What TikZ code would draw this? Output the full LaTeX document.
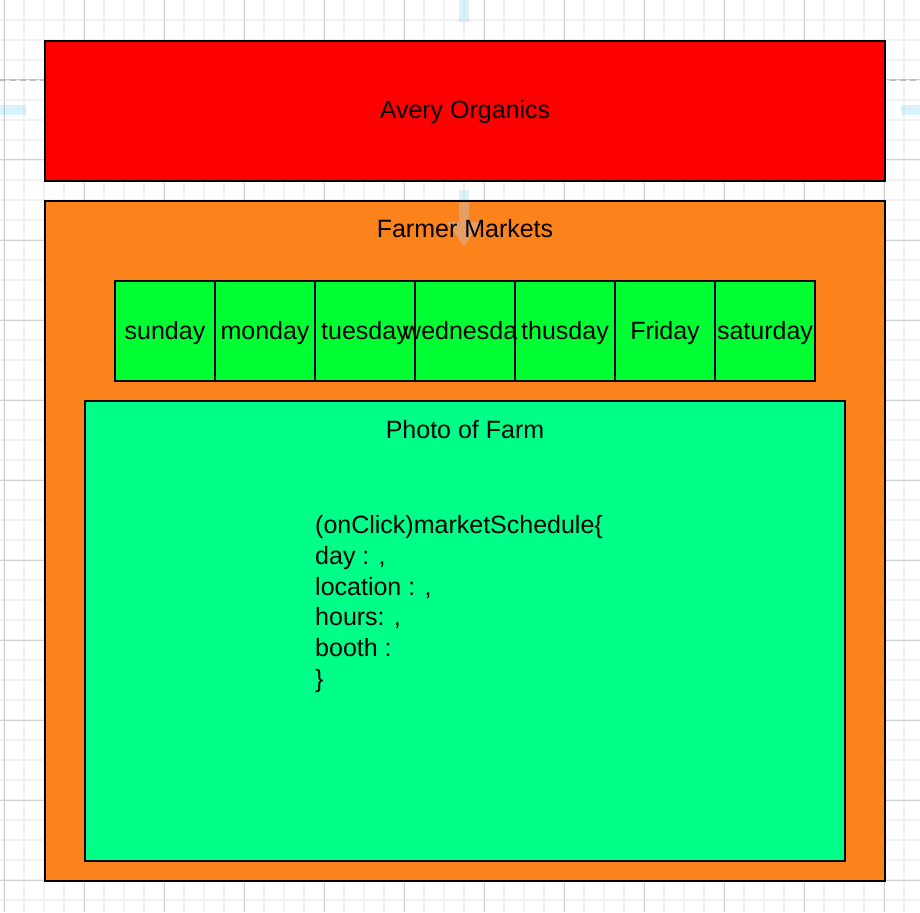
\documentclass[tikz,border=0pt]{standalone}
\usepackage{fontspec}
\setmainfont{Liberation Sans}
\definecolor{gridminor}{RGB}{241,241,241}
\definecolor{gridmajor}{RGB}{208,208,208}
\definecolor{guide}{RGB}{190,190,190}
\definecolor{avred}{RGB}{255,0,0}
\definecolor{market}{RGB}{252,130,27}
\definecolor{dayfill}{RGB}{0,255,51}
\definecolor{photofill}{RGB}{0,255,136}
\definecolor{hintblue}{RGB}{41,182,242}
\definecolor{hintgray}{RGB}{196,200,212}
\begin{document}
\begin{tikzpicture}[x=1pt,y=-1pt,
  minorline/.style={draw=gridminor,line width=1.2pt},
  majorline/.style={draw=gridmajor,line width=1pt},
  box/.style={draw=black,line width=1.4pt,inner sep=0pt,outer sep=0pt},
  daybox/.style={box,fill=dayfill,minimum width=100pt,minimum height=100pt},
  lbl/.style={font=\fontsize{25}{30.7}\selectfont,inner sep=0pt,anchor=base},
  hint/.style={fill=hintblue,fill opacity=0.17},
  droparrow/.style={fill=hintgray,fill opacity=0.4},
]
\useasboundingbox (0,0) rectangle (920,912);
\fill[white] (0,0) rectangle (920,912);

% canvas grid
\foreach \x in {4,24,...,904} \draw[minorline] (\x,0) -- (\x,912);
\foreach \y in {20,40,...,900} \draw[minorline] (0,\y) -- (920,\y);
\foreach \x in {4,84,...,884} \draw[majorline] (\x,0) -- (\x,912);
\foreach \y in {0,80,...,880} \draw[majorline] (0,\y) -- (920,\y);
\draw[guide,line width=1.6pt,dash pattern=on 6pt off 4pt] (0,80) -- (920,80);

% guide markers on the rulers
\fill[hint] (459,0) rectangle (469,22);
\fill[hint] (0,105) rectangle (26,115);
\fill[hint] (901,105) rectangle (920,115);

% header
\node[box,fill=avred,minimum width=840pt,minimum height=140pt] (header) at (465,111) {};

% market panel
\node[box,fill=market,minimum width=840pt,minimum height=680pt] (markets) at (465,541) {};

% weekday strip
\foreach \n [count=\i from 0] in {sun,mon,tue,wed,thu,fri,sat}
  \node[daybox] (d\n) at (165+100*\i,331) {};

% farm photo area
\node[box,fill=photofill,minimum width=760pt,minimum height=460pt] (photo) at (465,631) {};

% drop hint arrow between header and panel
\fill[hint] (459,190) rectangle (469,200);
\fill[droparrow] (459,202) -- (469,202) -- (469,222) -- (481,222) -- (464,246)
  -- (447,222) -- (459,222) -- cycle;

% labels
\node[lbl] (lheader) at ([yshift=-8pt]header.center) {Avery Organics};
\node[lbl] (lmarkets) at (465,237) {Farmer Markets};
\node[lbl] (lsun) at ([yshift=-8pt]dsun.center) {sunday};
\node[lbl] (lmon) at ([yshift=-8pt]dmon.center) {monday};
\node[lbl] (ltue) at ([yshift=-8pt]dtue.center) {tuesday};
\node[lbl,anchor=base west] (lwed) at (403,339) {wednesda};
\node[lbl] (lthu) at ([yshift=-8pt]dthu.center) {thusday};
\node[lbl] (lfri) at ([yshift=-8pt]dfri.center) {Friday};
\node[lbl] (lsat) at ([yshift=-8pt]dsat.center) {saturday};
\node[lbl] (lphoto) at (465,438) {Photo of Farm};
\node[lbl,anchor=north west,align=left] (schedule) at (315,515.5)
  {(onClick)marketSchedule\{\\day : ,\\location : ,\\hours: ,\\booth :\\\}};
\end{tikzpicture}
\end{document}
